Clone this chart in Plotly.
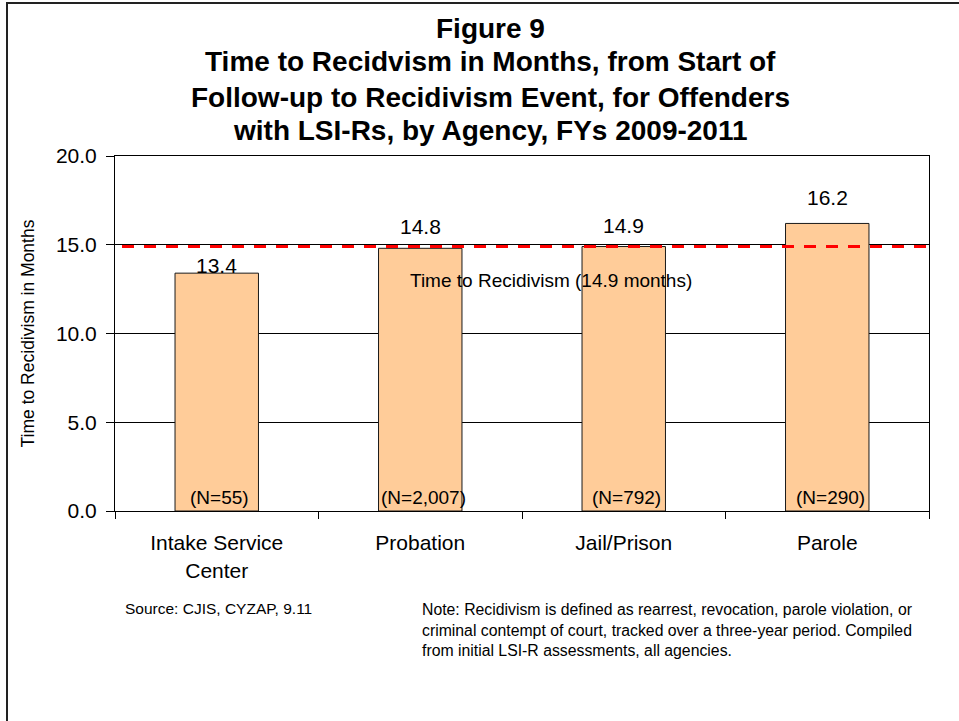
import plotly.graph_objects as go

# Agencies, mean months to recidivism, and group sizes
agencies = ["Intake Service<br>Center", "Probation", "Jail/Prison", "Parole"]
months = [13.4, 14.8, 14.9, 16.2]
n_labels = ["(N=55)", "(N=2,007)", "(N=792)", "(N=290)"]
overall_months = 14.9
y_ticks = [0.0, 5.0, 10.0, 15.0, 20.0]

title_lines = [
    "Figure 9",
    "Time to Recidvism in Months, from Start of",
    "Follow-up to Recidivism Event, for Offenders",
    "with LSI-Rs, by Agency, FYs 2009-2011",
]
source_text = "Source: CJIS, CYZAP, 9.11"
note_text = ("Note: Recidivism is defined as rearrest, revocation, parole violation, or<br>"
             "criminal contempt of court, tracked over a three-year period. Compiled<br>"
             "from initial LSI-R assessments, all agencies.")

FONT = "Liberation Sans, Arial, sans-serif"
W, H = 959, 721
L, R, T, B = 115, 30, 156, 210
PW, PH = W - L - R, H - T - B


def px_x(px):
    return (px - L) / PW


def px_y(py):
    return (H - B - py) / PH


fig = go.Figure()
fig.add_trace(go.Bar(
    x=agencies, y=months,
    marker=dict(color="#FFCC99", line=dict(color="#1a1a1a", width=1)),
    hoverinfo="skip",
))

annotations = []
# chart heading
for line, cy in zip(title_lines, [28, 62, 97, 130]):
    annotations.append(dict(
        text=f"<b>{line}</b>", xref="paper", yref="paper",
        x=px_x(490), y=px_y(cy), xanchor="center", yanchor="middle",
        showarrow=False, font=dict(family=FONT, size=28, color="black"),
    ))

# value labels above bars
label_shift = [8, 22, 21, 26]
for cat, v, s in zip(agencies, months, label_shift):
    annotations.append(dict(
        text=f"{v:.1f}", x=cat, y=v, xref="x", yref="y",
        yanchor="middle", yshift=s, showarrow=False,
        font=dict(family=FONT, size=21, color="black"),
    ))

# group sizes at the foot of each bar
for cat, n in zip(agencies, n_labels):
    annotations.append(dict(
        text=n, x=cat, y=0, xref="x", yref="y",
        yanchor="middle", yshift=14, xshift=3, showarrow=False,
        font=dict(family=FONT, size=19, color="black"),
    ))

# overall reference line label
annotations.append(dict(
    text=f"Time to Recidivism ({overall_months:.1f} months)",
    xref="paper", yref="y", x=px_x(551), y=overall_months,
    yanchor="middle", yshift=-34, showarrow=False,
    font=dict(family=FONT, size=19, color="black"),
))

# footnotes
annotations.append(dict(
    text=source_text, xref="paper", yref="paper",
    x=px_x(123), y=px_y(608), xanchor="left", yanchor="middle",
    showarrow=False, font=dict(family=FONT, size=15.5, color="black"),
))
annotations.append(dict(
    text=note_text, xref="paper", yref="paper",
    x=px_x(420), y=px_y(599), xanchor="left", yanchor="top", align="left",
    showarrow=False, font=dict(family=FONT, size=15.8, color="black"),
))

shapes = [
    # overall mean reference line
    dict(type="line", xref="paper", yref="y",
         x0=px_x(122), x1=px_x(932), y0=overall_months, y1=overall_months,
         line=dict(color="#FF0000", width=3, dash="12px,10px")),
    # outer frame
    dict(type="rect", xref="paper", yref="paper",
         x0=px_x(7), x1=px_x(1100), y0=px_y(3), y1=px_y(900),
         line=dict(color="#222222", width=2), layer="above"),
]

fig.update_layout(
    width=W, height=H,
    margin=dict(l=L, r=R, t=T, b=B, pad=0),
    paper_bgcolor="white", plot_bgcolor="white",
    showlegend=False, bargap=0.59,
    font=dict(family=FONT, color="black"),
    annotations=annotations, shapes=shapes,
    xaxis=dict(
        type="category", showline=True, linecolor="black", linewidth=1, mirror=True,
        ticks="outside", tickson="boundaries", ticklen=7, tickcolor="black",
        showgrid=False, tickfont=dict(family=FONT, size=21, color="black"),
        ticklabelstandoff=13,
    ),
    yaxis=dict(
        range=[0, 20], tickvals=y_ticks, tickformat=".1f",
        showline=True, linecolor="black", linewidth=1, mirror=True,
        ticks="outside", ticklen=8, tickcolor="black",
        showgrid=True, gridcolor="black", gridwidth=1, zeroline=False,
        tickfont=dict(family=FONT, size=21, color="black"),
        ticklabelstandoff=5,
        title=dict(text="Time to Recidivism in Months", standoff=16,
                   font=dict(family=FONT, size=17.5, color="black")),
    ),
)

fig.write_html("out.html")
